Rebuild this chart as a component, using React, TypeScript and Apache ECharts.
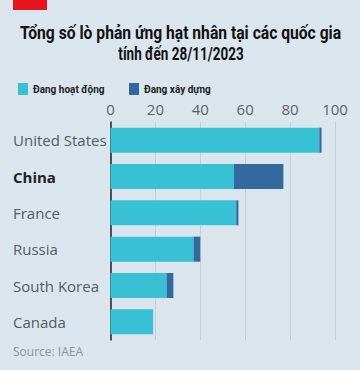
import React, { useEffect, useRef } from "react";
import * as echarts from "echarts";

const countries = ["United States", "China", "France", "Russia", "South Korea", "Canada"];
const operating = [93, 55, 56, 37, 25, 19];
const construction = [1, 22, 1, 3, 3, 0];
const xTicks = [0, 20, 40, 60, 80, 100];
const seriesNames = ["Đang hoạt động", "Đang xây dựng"];
const titleLines = ["Tổng số lò phản ứng hạt nhân tại các quốc gia", "tính đến 28/11/2023"];

const BODY_FONT = "'Open Sans', 'Noto Sans', sans-serif";
const COND_FONT = "Roboto, sans-serif";

export default function App() {
  const ref = useRef<HTMLDivElement>(null);
  useEffect(() => {
    if (!ref.current) return;
    const chart = echarts.init(ref.current, undefined, { renderer: "svg" });
    chart.setOption({
      animation: false,
      backgroundColor: "#dbe5ed",
      legend: [
        {
          data: [seriesNames[0]],
          left: 13,
          top: 78,
          icon: "rect",
          itemWidth: 10,
          itemHeight: 12,
          textStyle: { fontFamily: COND_FONT, fontWeight: "bold", fontSize: 10, color: "#222" },
        },
        {
          data: [seriesNames[1]],
          left: 124,
          top: 78,
          icon: "rect",
          itemWidth: 10,
          itemHeight: 12,
          textStyle: { fontFamily: COND_FONT, fontWeight: "bold", fontSize: 10, color: "#222" },
        },
      ],
      graphic: [
        { type: "rect", shape: { x: 13, y: 0, width: 34, height: 10 }, style: { fill: "#e8141e" } },
        {
          type: "text",
          x: 180.5,
          y: 33,
          scaleX: 0.87,
          style: {
            text: titleLines[0],
            fontFamily: COND_FONT,
            fontWeight: "bold",
            fontSize: 18,
            fill: "#111111",
            textAlign: "center",
            textVerticalAlign: "middle",
          },
        },
        {
          type: "text",
          x: 181,
          y: 54,
          scaleX: 0.75,
          style: {
            text: titleLines[1],
            fontFamily: COND_FONT,
            fontWeight: "bold",
            fontSize: 18,
            fill: "#111111",
            textAlign: "center",
            textVerticalAlign: "middle",
          },
        },
        {
          type: "text",
          left: 13,
          top: 345,
          style: { text: "Source: IAEA", fontFamily: BODY_FONT, fontSize: 12, fill: "#8a949c" },
        },
      ],
      grid: { left: 110.5, right: 25, top: 122, bottom: 30 },
      xAxis: {
        type: "value",
        position: "top",
        min: 0,
        max: 100,
        interval: 20,
        axisLine: { show: false },
        axisTick: { show: false },
        axisLabel: {
          margin: 6,
          fontFamily: BODY_FONT,
          fontSize: 15,
          color: "#5a636b",
          formatter: (v: number) => (xTicks.includes(v) ? String(v) : ""),
        },
        splitLine: { lineStyle: { color: "#c3ced7", width: 1 } },
      },
      yAxis: {
        type: "category",
        data: countries,
        inverse: true,
        axisTick: { show: false },
        axisLine: { show: true, lineStyle: { color: "#222222", width: 1.5 } },
        axisLabel: {
          align: "left",
          margin: 97.5,
          fontFamily: BODY_FONT,
          fontSize: 15,
          color: "#545c64",
          formatter: (v: string) => (v === "China" ? `{b|${v}}` : v),
          rich: {
            b: { fontFamily: BODY_FONT, fontSize: 15, fontWeight: "bold", color: "#222" },
          },
        },
      },
      series: [
        {
          name: seriesNames[0],
          type: "bar",
          stack: "total",
          barWidth: 25,
          data: operating,
          itemStyle: { color: "#38c1d4" },
        },
        {
          name: seriesNames[1],
          type: "bar",
          stack: "total",
          barWidth: 25,
          data: construction,
          itemStyle: { color: "#336a9e" },
        },
      ],
    });
    return () => chart.dispose();
  }, []);
  return <div ref={ref} style={{ width: 360, height: 370, position: "absolute", left: 0, top: 0 }} />;
}
